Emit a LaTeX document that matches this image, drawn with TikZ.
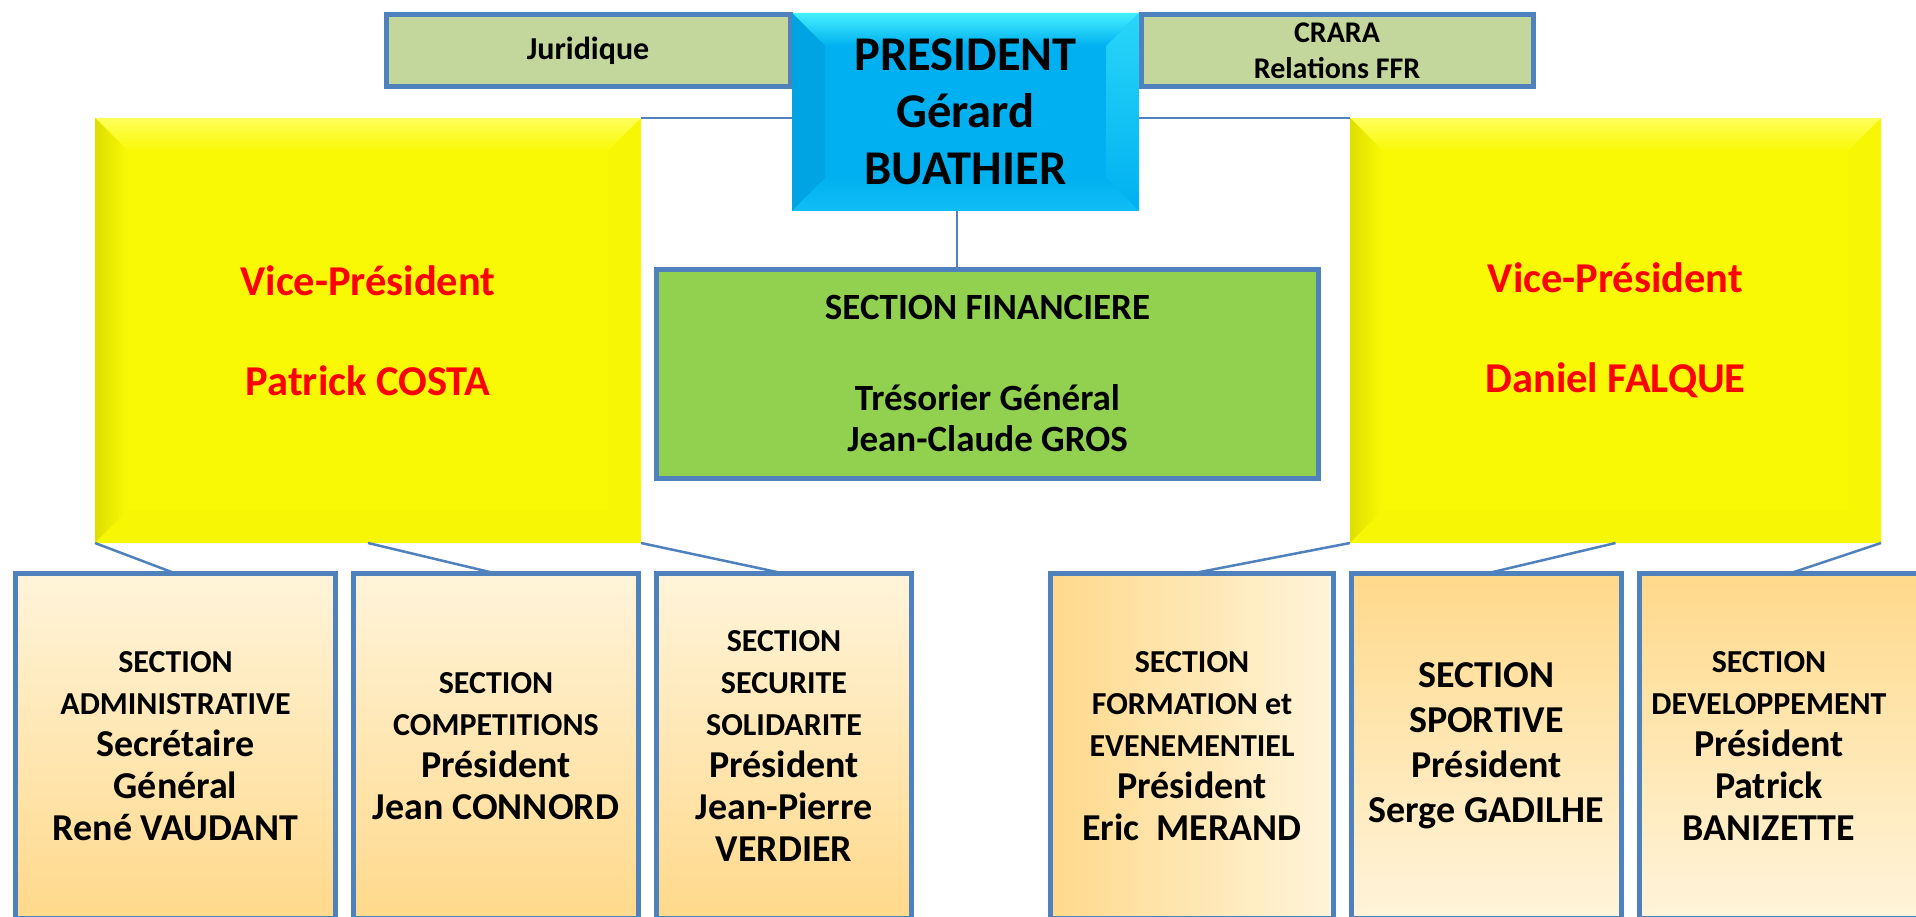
\documentclass[tikz,border=0pt]{standalone}
\usepackage{fontspec}
\setmainfont{Carlito}
\usetikzlibrary{calc}
\definecolor{bord}{HTML}{4F81BD}
\definecolor{olivebox}{HTML}{C3D69B}
\definecolor{presblue}{HTML}{00B0F0}
\definecolor{preslight}{HTML}{45F0FF}
\definecolor{presdark}{HTML}{00A4E2}
\definecolor{presside}{HTML}{12BEF6}
\definecolor{finfill}{HTML}{92D050}
\definecolor{yel}{HTML}{F9F906}
\definecolor{yellight}{HTML}{FFFF5A}
\definecolor{yeldark}{HTML}{DEDE00}
\definecolor{yelside}{HTML}{F7F705}
\definecolor{vpred}{HTML}{FF0000}
\definecolor{peachlight}{HTML}{FFF4DA}
\definecolor{peachdark}{HTML}{FFD98B}
\newcommand\fsS{\fontsize{32}{42}\selectfont}
\newcommand\fsB{\fontsize{38}{43}\selectfont}
\newcommand\bevw{33}
\tikzset{
  bevelcorners/.code={%
    \coordinate (pNW) at (path picture bounding box.north west);
    \coordinate (pSE) at (path picture bounding box.south east);
    \coordinate (pNE) at (pNW -| pSE);
    \coordinate (pSW) at (pNW |- pSE);
    \coordinate (qNW) at ($(pNW)+(\bevw pt,-\bevw pt)$);
    \coordinate (qNE) at ($(pNE)+(-\bevw pt,-\bevw pt)$);
    \coordinate (qSW) at ($(pSW)+(\bevw pt,\bevw pt)$);
    \coordinate (qSE) at ($(pSE)+(-\bevw pt,\bevw pt)$);
  },
  yelbevel/.style={path picture={
    \tikzset{bevelcorners}
    \shade[top color=yellight, bottom color=yel] (pNW) -- (pNE) -- (qNE) -- (qNW) -- cycle;
    \shade[left color=yeldark, right color=yel] (pNW) -- (qNW) -- (qSW) -- (pSW) -- cycle;
    \fill[yelside] (pNE) -- (pSE) -- (qSE) -- (qNE) -- cycle;
    \fill[yelside] (pSW) -- (qSW) -- (qSE) -- (pSE) -- cycle;
  }},
  presbevel/.style={path picture={
    \tikzset{bevelcorners}
    \shade[top color=preslight, bottom color=presblue] (pNW) -- (pNE) -- (qNE) -- (qNW) -- cycle;
    \fill[presdark] (pNW) -- (qNW) -- (qSW) -- (pSW) -- cycle;
    \shade[top color=preslight!60!presblue, bottom color=presblue] (pNE) -- (pSE) -- (qSE) -- (qNE) -- cycle;
    \shade[top color=presblue, bottom color=presside] (pSW) -- (qSW) -- (qSE) -- (pSE) -- cycle;
  }}
}
\begin{document}
\begin{tikzpicture}[x=1pt,y=-1pt,
  every node/.style={inner sep=0pt, outer sep=0pt},
  box/.style={rectangle, anchor=north west, align=center},
  framed/.style={box, draw=bord, line width=5pt},
  link/.style={draw=bord, line width=2.5pt},
  lowtext/.style={font=\bfseries\fsS},
  lowA/.style={framed, lowtext, top color=peachlight, bottom color=peachdark, minimum height=345pt},
  lowB/.style={framed, lowtext, top color=peachdark, bottom color=peachlight, minimum height=345pt},
  lowC/.style={framed, lowtext, left color=peachdark, right color=peachlight, minimum height=345pt}]
\useasboundingbox (0,0) rectangle (1916,917);
\fill[white] (0,0) rectangle (1916,917);
\clip (0,0) rectangle (1916,917);

% top row
\node[framed, fill=olivebox, minimum width=404pt, minimum height=72pt,
  font=\bfseries\fontsize{32}{37}\selectfont] (jur) at (386,15) {Juridique};
\node[framed, fill=olivebox, minimum width=392pt, minimum height=72pt,
  font=\bfseries\fontsize{30}{36}\selectfont] (crara) at (1141,15) {CRARA\\Relations FFR};
\node[box, fill=presblue, presbevel, minimum width=347pt, minimum height=198pt,
  font=\bfseries\fontsize{48.5}{57}\selectfont] (pres) at (792,13) {PRESIDENT\\Gérard\\BUATHIER};

% vice-presidents
\node[box, fill=yel, yelbevel, minimum width=546pt, minimum height=425pt, text=vpred,
  font=\bfseries\fontsize{42.5}{50}\selectfont] (vpL) at (95,118) {Vice-Président\\[50pt]Patrick COSTA};
\node[box, fill=yel, yelbevel, minimum width=531pt, minimum height=425pt, text=vpred,
  font=\bfseries\fontsize{42.5}{50}\selectfont] (vpR) at (1350,118) {Vice-Président\\[50pt]Daniel FALQUE};

% finance
\node[framed, fill=finfill, minimum width=662pt, minimum height=209pt,
  font=\bfseries\fontsize{37}{41}\selectfont] (fin) at (656.5,269.5)
  {SECTION FINANCIERE\\[50pt]Trésorier Général\\Jean-Claude GROS};

% sections
\node[lowA, minimum width=320pt] (b1) at (15.5,573.5)
  {SECTION\\ADMINISTRATIVE\\\fsB Secrétaire\\\fsB Général\\\fsB René VAUDANT};
\node[lowA, minimum width=285pt] (b2) at (353.5,573.5)
  {SECTION\\COMPETITIONS\\\fsB Président\\\fsB Jean CONNORD};
\node[lowA, minimum width=255pt] (b3) at (656.5,573.5)
  {SECTION\\SECURITE\\SOLIDARITE\\\fsB Président\\\fsB Jean-Pierre\\\fsB VERDIER};
\node[lowC, minimum width=283pt] (b4) at (1050.5,573.5)
  {SECTION\\FORMATION et\\EVENEMENTIEL\\\fsB Président\\\fsB Eric\ \ MERAND};
\node[lowB, minimum width=270pt, font=\bfseries\fontsize{38}{45}\selectfont] (b5) at (1351.5,573.5)
  {SECTION\\SPORTIVE\\Président\\Serge GADILHE};
\node[lowB, minimum width=300pt] (b6) at (1639.5,573.5) {};
\node[align=center, lowtext] (t6) at (1769,746)
  {SECTION\\DEVELOPPEMENT\\\fsB Président\\\fsB Patrick\\\fsB BANIZETTE};

% connectors
\coordinate (lv) at (957,0);
\draw[link] (pres.south -| lv) -- (fin.north -| lv);
\draw[link] (vpL.north east) -- (vpL.north east -| pres.west);
\draw[link] (pres.east |- vpR.north west) -- (vpR.north west);
\draw[link] (vpL.south west) -- (b1.north);
\draw[link] (vpL.south) -- (b2.north);
\draw[link] (vpL.south east) -- (b3.north);
\draw[link] (vpR.south west) -- (b4.north);
\draw[link] (vpR.south) -- (b5.north);
\draw[link] (vpR.south east) -- (b6.north);
\end{tikzpicture}
\end{document}
